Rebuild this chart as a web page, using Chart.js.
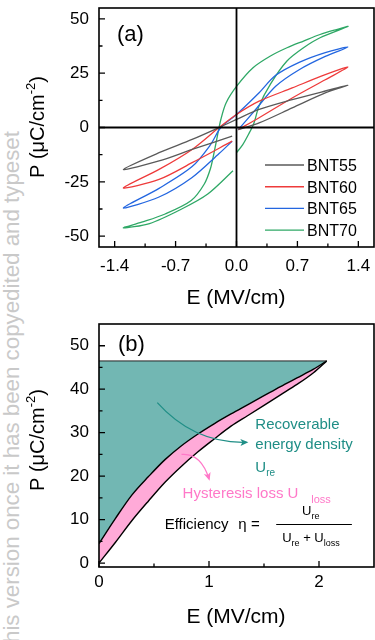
<!DOCTYPE html>
<html>
<head>
<meta charset="utf-8">
<script src="https://cdn.jsdelivr.net/npm/chart.js@4/dist/chart.umd.min.js"></script>
<style>
  html, body { margin: 0; padding: 0; background: #fff; width: 375px; height: 640px; overflow: hidden; }
  .panel { position: absolute; left: 0; width: 375px; z-index: 1; }
  #wrapA { top: 0; height: 310px; }
  #wrapB { top: 310px; height: 330px; }
  #mark {
    position: absolute; left: 1px; top: 643px; z-index: 0;
    transform: rotate(-90deg); transform-origin: 0 0;
    font: 22.3px "Liberation Sans", Arial, sans-serif; line-height: 22px;
    color: #c9c9c9; white-space: nowrap;
  }
</style>
</head>
<body>
<div id="mark">his version once it has been copyedited and typeset</div>
<div class="panel" id="wrapA"><canvas id="chartA"></canvas></div>
<div class="panel" id="wrapB"><canvas id="chartB"></canvas></div>
<script>
const FONT = '"Liberation Sans", Arial, sans-serif';

// (a) P-E loops: E in MV/cm, P in uC/cm2
const loopNames = ["BNT55", "BNT60", "BNT65", "BNT70"];
const bnt55E = [0.02, 0.26, 0.64, 1.02, 1.28, 1.02, 0.64, 0.26, 0, -0.2, -0.51, -0.89, -1.3, -0.89, -0.51, -0.05];
const bnt55P = [-1, 2.1, 9, 15.9, 19.4, 16.8, 12.8, 8.3, 3.7, 0, -5.5, -11.6, -19.3, -15.4, -10.1, -4];
const bnt60E = [0.02, 0.26, 0.64, 1.02, 1.28, 1.02, 0.64, 0.26, 0, -0.2, -0.51, -0.89, -1.3, -0.89, -0.51, -0.05];
const bnt60P = [-1, 4.5, 13.6, 22, 27.8, 24.3, 18.2, 12.1, 6, 0, -10.1, -19.3, -27.8, -23.9, -16.2, -6.3];
const bnt65E = [0.02, 0.22, 0.45, 0.72, 1.02, 1.28, 1.02, 0.72, 0.45, 0.26, 0, -0.18, -0.3, -0.51, -0.89, -1.3, -0.89, -0.51, -0.2, -0.05];
const bnt65P = [-1, 8.3, 19, 26.6, 32.7, 37, 34.5, 30, 24, 16, 6, 0, -8, -18, -28, -37, -32, -23, -12, -6.3];
const bnt70E = [0, 0.07, 0.14, 0.2, 0.26, 0.39, 0.58, 0.77, 0.96, 1.28, 1.15, 0.96, 0.77, 0.58, 0.39, 0.19, 0, -0.12, -0.18, -0.22, -0.26, -0.3, -0.37, -0.52, -0.82, -1.09, -1.3, -1.0, -0.63, -0.33, -0.04];
const bnt70P = [-11.6, -8, -3, 2, 10, 20, 30.6, 36.7, 41.3, 46.5, 45.1, 42.8, 39.8, 36.7, 32.9, 27.5, 18.9, 11.3, 3.7, -4, -12, -19, -26, -33.6, -39.8, -43.6, -46.2, -44.2, -37.5, -30.6, -19.9];

const aTicksX = [-1.4, -0.7, 0, 0.7, 1.4];
const aMinorX = [-1.05, -0.35, 0.35, 1.05];
const aTicksY = [-50, -25, 0, 25, 50];
const aMinorY = [-37.5, -12.5, 12.5, 37.5];

// (b) energy storage sketch
const bE = [0, 0.15, 0.3, 0.45, 0.6, 0.75, 0.9, 1.05, 1.2, 1.35, 1.5, 1.65, 1.8, 1.95, 2.07];
const bDischarge = [4.5, 10.3, 15.7, 19.9, 23.8, 27.0, 29.7, 32.1, 34.3, 36.4, 38.5, 40.6, 42.6, 44.6, 46.5];
const bCharge = [0, 4.8, 9.8, 14.3, 18.6, 22.3, 25.6, 28.6, 31.5, 33.9, 36.3, 38.7, 41.1, 43.8, 46.5];
const bPmax = 46.5;

const bTicksX = [0, 1, 2];
const bMinorX = [0.5, 1.5];
const bTicksY = [0, 10, 20, 30, 40, 50];
const bMinorY = [5, 15, 25, 35, 45];

const loopColors = ["#5a5a5a", "#ee3b3b", "#2366e0", "#2fa866"];
const TEAL = "#72b7b3";
const TEAL_TEXT = "#1f8e86";
const PINK = "#ffaad8";
const PINK_TEXT = "#ff78c8";

const pts = (xs, ys) => xs.map((x, i) => ({ x, y: ys[i] }));

function richText(ctx, parts, x, y, align) {
  let total = 0;
  for (const p of parts) {
    ctx.font = `${p.size}px ${FONT}`;
    total += ctx.measureText(p.text).width;
  }
  let cx = align === "center" ? x - total / 2 : x;
  ctx.textAlign = "left";
  ctx.textBaseline = "alphabetic";
  for (const p of parts) {
    ctx.font = `${p.size}px ${FONT}`;
    ctx.fillText(p.text, cx, y + (p.dy || 0));
    cx += ctx.measureText(p.text).width;
  }
}

function drawFrame(chart, xMajor, xMinor, yMajor, yMinor) {
  const { ctx, chartArea: a, scales: { x, y } } = chart;
  ctx.save();
  ctx.strokeStyle = "#000";
  ctx.lineWidth = 1.6;
  ctx.strokeRect(a.left, a.top, a.right - a.left, a.bottom - a.top);
  ctx.lineWidth = 1.3;
  ctx.beginPath();
  const xt = (v, len) => {
    const px = x.getPixelForValue(v);
    ctx.moveTo(px, a.bottom);
    ctx.lineTo(px, a.bottom - len);
  };
  const yt = (v, len) => {
    const py = y.getPixelForValue(v);
    ctx.moveTo(a.left, py);
    ctx.lineTo(a.left + len, py);
  };
  xMajor.forEach((v) => xt(v, 6));
  xMinor.forEach((v) => xt(v, 3.5));
  yMajor.forEach((v) => yt(v, 6));
  yMinor.forEach((v) => yt(v, 3.5));
  ctx.stroke();
  ctx.restore();
}

function yTitle(ctx, xBase, yMid) {
  ctx.save();
  ctx.fillStyle = "#000";
  ctx.translate(xBase, yMid);
  ctx.rotate(-Math.PI / 2);
  richText(ctx, [
    { text: "P (\u03bcC/cm", size: 20 },
    { text: "-2", size: 13, dy: -9 },
    { text: ")", size: 20 },
  ], 0, 0, "center");
  ctx.restore();
}

function arrow(ctx, p0, p1, p2, color) {
  const mid = { x: 2 * p1.x - (p0.x + p2.x) / 2, y: 2 * p1.y - (p0.y + p2.y) / 2 };
  ctx.save();
  ctx.strokeStyle = color;
  ctx.fillStyle = color;
  ctx.lineWidth = 1.2;
  ctx.beginPath();
  ctx.moveTo(p0.x, p0.y);
  ctx.quadraticCurveTo(mid.x, mid.y, p2.x, p2.y);
  ctx.stroke();
  const ang = Math.atan2(p2.y - mid.y, p2.x - mid.x);
  ctx.translate(p2.x, p2.y);
  ctx.rotate(ang);
  ctx.beginPath();
  ctx.moveTo(2, 0);
  ctx.lineTo(-6, -3.5);
  ctx.lineTo(-4, 0);
  ctx.lineTo(-6, 3.5);
  ctx.closePath();
  ctx.fill();
  ctx.restore();
}

const decorA = {
  id: "decorA",
  afterDatasetsDraw(chart) {
    const { ctx, chartArea: a, scales: { x, y } } = chart;
    const x0 = x.getPixelForValue(0);
    const y0 = y.getPixelForValue(0);
    ctx.save();
    ctx.strokeStyle = "#000";
    ctx.lineWidth = 1.8;
    ctx.beginPath();
    ctx.moveTo(x0, a.top);
    ctx.lineTo(x0, a.bottom);
    ctx.moveTo(a.left, y0);
    ctx.lineTo(a.right, y0);
    ctx.stroke();
    ctx.restore();
  },
  afterDraw(chart) {
    const { ctx } = chart;
    drawFrame(chart, aTicksX, aMinorX, aTicksY, aMinorY);
    ctx.save();
    ctx.fillStyle = "#000";
    ctx.font = `22px ${FONT}`;
    ctx.textBaseline = "alphabetic";
    ctx.fillText("(a)", 117, 41);
    // legend
    chart.data.datasets.forEach((ds, i) => {
      const ry = 165 + i * 21.7;
      ctx.strokeStyle = ds.borderColor;
      ctx.lineWidth = 1.4;
      ctx.beginPath();
      ctx.moveTo(265, ry);
      ctx.lineTo(304, ry);
      ctx.stroke();
      ctx.font = `16px ${FONT}`;
      ctx.fillStyle = "#000";
      ctx.fillText(ds.label, 307, ry + 6);
    });
    richText(ctx, [{ text: "E (MV/cm)", size: 21 }], 236, 304, "center");
    ctx.restore();
    yTitle(ctx, 44, 127);
  },
};

const decorB = {
  id: "decorB",
  afterDatasetsDraw(chart) {
    const { ctx, scales: { x, y } } = chart;
    const P = (e, p) => ({ x: x.getPixelForValue(e), y: y.getPixelForValue(p) });
    arrow(ctx, P(0.53, 36.9), P(0.9, 29.9), P(1.34, 27.8), "#1f8e86");
    arrow(ctx, P(0.75, 25), P(0.9, 23.8), P(1.0, 19.4), PINK_TEXT);

    ctx.save();
    ctx.fillStyle = TEAL_TEXT;
    ctx.font = `15px ${FONT}`;
    const tx = x.getPixelForValue(1.421);
    ctx.fillText("Recoverable", tx, y.getPixelForValue(30.95));
    ctx.fillText("energy density", tx, y.getPixelForValue(26.3));
    richText(ctx, [{ text: "U", size: 15 }, { text: "re", size: 10, dy: 4 }], tx, y.getPixelForValue(21.0));

    ctx.fillStyle = PINK_TEXT;
    richText(ctx, [{ text: "Hysteresis loss U", size: 15 }], x.getPixelForValue(0.76), y.getPixelForValue(15.0));
    richText(ctx, [{ text: "loss", size: 11 }], x.getPixelForValue(1.93), y.getPixelForValue(13.9));

    ctx.fillStyle = "#000";
    richText(ctx, [{ text: "Efficiency", size: 15 }], x.getPixelForValue(0.597), y.getPixelForValue(7.85));
    richText(ctx, [{ text: "\u03b7 =", size: 15 }], x.getPixelForValue(1.267), y.getPixelForValue(7.85));
    richText(ctx, [{ text: "U", size: 13 }, { text: "re", size: 9, dy: 4 }], x.getPixelForValue(1.846), y.getPixelForValue(11.09));
    richText(ctx, [
      { text: "U", size: 13 }, { text: "re", size: 9, dy: 4 },
      { text: " + ", size: 13 },
      { text: "U", size: 13 }, { text: "loss", size: 9, dy: 4 },
    ], x.getPixelForValue(1.665), y.getPixelForValue(4.85));
    ctx.strokeStyle = "#000";
    ctx.lineWidth = 1;
    ctx.beginPath();
    const fy = Math.round(y.getPixelForValue(9.0)) + 0.5;
    ctx.moveTo(x.getPixelForValue(1.611), fy);
    ctx.lineTo(x.getPixelForValue(2.299), fy);
    ctx.stroke();
    ctx.restore();
  },
  afterDraw(chart) {
    const { ctx } = chart;
    drawFrame(chart, bTicksX, bMinorX, bTicksY, bMinorY);
    ctx.save();
    ctx.fillStyle = "#000";
    ctx.font = `22px ${FONT}`;
    ctx.fillText("(b)", 118, 41);
    richText(ctx, [{ text: "E (MV/cm)", size: 21 }], 236, 313, "center");
    ctx.restore();
    yTitle(ctx, 44, 130);
  },
};

function linearAxis(min, max, ticks, fmt, fit) {
  return {
    type: "linear",
    min,
    max,
    grid: { display: false, drawTicks: false },
    border: { display: false },
    afterBuildTicks: (s) => {
      s.ticks = ticks.map((v) => ({ value: v }));
    },
    ticks: {
      autoSkip: false,
      maxRotation: 0,
      color: "#000",
      font: { family: FONT, size: 17 },
      callback: fmt,
    },
    afterFit: fit,
  };
}

function makeScales(xMin, xMax, xTicks, xFmt, xPad, yMin, yMax, yTicks, axisH) {
  const sx = linearAxis(xMin, xMax, xTicks, xFmt, (s) => {
    s.height = axisH;
    s.paddingLeft = 0;
    s.paddingRight = 0;
  });
  sx.ticks.padding = xPad;
  const sy = linearAxis(yMin, yMax, yTicks, (v) => String(v), (s) => {
    s.width = 99;
    s.paddingTop = 0;
    s.paddingBottom = 0;
  });
  sy.ticks.padding = 10;
  return { x: sx, y: sy };
}

const loops = [[bnt55E, bnt55P], [bnt60E, bnt60P], [bnt65E, bnt65P], [bnt70E, bnt70P]];

new Chart(document.getElementById("chartA"), {
  type: "scatter",
  data: {
    datasets: loops.map(([e, p], i) => ({
      label: loopNames[i],
      data: pts(e, p),
      showLine: true,
      borderColor: loopColors[i],
      borderWidth: 1.3,
      pointRadius: 0,
      tension: 0.3,
      fill: false,
    })),
  },
  options: {
    responsive: true,
    maintainAspectRatio: false,
    animation: false,
    layout: { padding: { top: 8, right: 1, left: 0, bottom: 0 } },
    plugins: { legend: { display: false }, tooltip: { enabled: false } },
    scales: makeScales(-1.58, 1.58, aTicksX, (v) => v.toFixed(1), 9, -55, 55, aTicksY, 63),
  },
  plugins: [decorA],
});

new Chart(document.getElementById("chartB"), {
  type: "scatter",
  data: {
    datasets: [
      {
        label: "Pmax",
        data: pts([bE[0], bE[bE.length - 1]], [bPmax, bPmax]),
        showLine: true,
        borderColor: "#222",
        borderWidth: 1,
        pointRadius: 0,
        fill: false,
      },
      {
        label: "Discharge",
        data: pts(bE, bDischarge),
        showLine: true,
        borderColor: "#000",
        borderWidth: 1.4,
        pointRadius: 0,
        cubicInterpolationMode: "monotone",
        fill: { target: { value: bPmax }, below: TEAL, above: TEAL },
      },
      {
        label: "Charge",
        data: pts(bE, bCharge),
        showLine: true,
        borderColor: "#000",
        borderWidth: 1.4,
        pointRadius: 0,
        cubicInterpolationMode: "monotone",
        backgroundColor: PINK,
        fill: "-1",
      },
    ],
  },
  options: {
    responsive: true,
    maintainAspectRatio: false,
    animation: false,
    layout: { padding: { top: 14, right: 1, left: 0, bottom: 0 } },
    plugins: { legend: { display: false }, tooltip: { enabled: false } },
    scales: makeScales(0, 2.5, bTicksX, (v) => String(v), 5, -0.9, 55, bTicksY, 73),
  },
  plugins: [decorB],
});
</script>
</body>
</html>
